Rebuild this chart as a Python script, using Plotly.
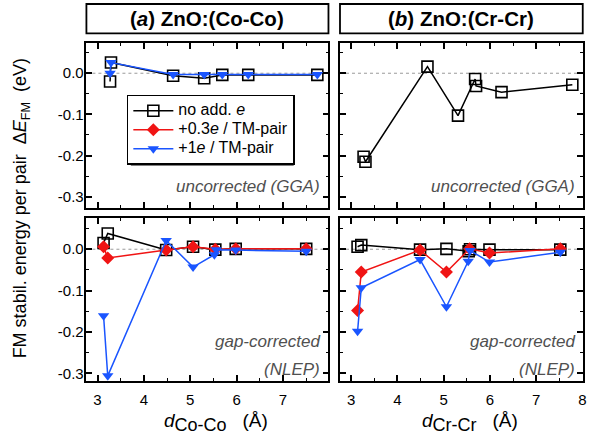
import plotly.graph_objects as go

# ---------------- data ----------------
panel_titles = ["<b>(<i>a</i>) ZnO:(Co-Co)</b>", "<b>(<i>b</i>) ZnO:(Cr-Cr)</b>"]
x_title_subs = ["Co-Co", "Cr-Cr"]
series_names = ["no add. <i>e</i>", "+0.3<i>e</i> / TM-pair", "+1<i>e</i> / TM-pair"]
y_tickvals = [0.0, -0.1, -0.2, -0.3]
y_ticktext = ["0.0", "-0.1", "-0.2", "-0.3"]
x_tickvals = [3, 4, 5, 6, 7, 8]
x_ticktext = ["3", "4", "5", "6", "7", "8"]

# (a) Co-Co, uncorrected GGA
co_gga_x = [3.27, 3.29, 4.63, 5.30, 5.69, 6.25, 7.74]
co_gga_none = [-0.020, 0.026, -0.006, -0.012, -0.004, -0.004, -0.004]
co_gga_p1 = [0.000, 0.026, -0.003, -0.003, -0.003, -0.003, -0.003]

# (b) Cr-Cr, uncorrected GGA
cr_gga_x = [3.27, 3.31, 4.65, 5.31, 5.68, 5.70, 6.25, 7.78]
cr_gga_none = [-0.203, -0.215, 0.016, -0.103, -0.014, -0.031, -0.046, -0.028]

# (a) Co-Co, gap-corrected NLEP
co_nlep_x = [3.13, 3.22, 4.48, 5.06, 5.54, 5.98, 7.50]
co_nlep_none = [0.015, 0.038, -0.002, 0.006, -0.001, 0.001, 0.001]
co_nlep_p03 = [0.006, -0.021, -0.002, 0.006, 0.000, 0.001, 0.001]
co_nlep_p1_x = [3.13, 3.22, 4.48, 5.06, 5.52, 5.56, 5.98, 7.50]
co_nlep_p1 = [-0.161, -0.306, 0.021, -0.043, -0.013, -0.001, -0.002, -0.005]

# (b) Cr-Cr, gap-corrected NLEP
cr_nlep_none_x = [3.14, 3.22, 4.49, 5.06, 5.54, 5.57, 5.99, 7.52]
cr_nlep_none = [0.006, 0.010, -0.001, 0.001, -0.005, 0.000, -0.001, -0.001]
cr_nlep_p03_x = [3.14, 3.22, 4.49, 5.06, 5.56, 5.99, 7.52]
cr_nlep_p03 = [-0.148, -0.055, -0.002, -0.055, 0.001, -0.009, 0.001]
cr_nlep_p1_x = [3.14, 3.22, 4.49, 5.06, 5.53, 5.57, 5.99, 7.52]
cr_nlep_p1 = [-0.198, -0.093, -0.025, -0.139, -0.029, -0.003, -0.031, -0.007]

# ---------------- styles ----------------
W, H = 593, 435
FONT = "Liberation Sans, Arial, sans-serif"
BLACK = "#000000"
RED = "#f01414"
BLUE = "#1a55ff"
GRAY_TXT = "#505050"

def px_x(p):
    return p / W

def px_y(p):
    return 1 - p / H

style = {
    "none": dict(mode="lines+markers", line=dict(color=BLACK, width=1.5),
                 marker=dict(symbol="square-open", size=11, color=BLACK, line=dict(width=1.6, color=BLACK))),
    "p03": dict(mode="lines+markers", line=dict(color=RED, width=1.5),
                marker=dict(symbol="diamond", size=10, color=RED, line=dict(width=0))),
    "p1": dict(mode="lines+markers", line=dict(color=BLUE, width=1.5),
               marker=dict(symbol="triangle-down", size=10, color=BLUE, line=dict(width=0))),
}

fig = go.Figure()

def add(x, y, key, xa, ya, name=None, show=False):
    fig.add_trace(go.Scatter(x=x, y=y, xaxis=xa, yaxis=ya, name=name or key,
                             showlegend=show, **style[key]))

def legname(t):
    return f'<span style="font-size:16px">{t}</span>'

# top-left: x/y
add(co_gga_x, co_gga_none, "none", "x", "y", legname(series_names[0]), True)
add([None], [None], "p03", "x", "y", legname(series_names[1]), True)   # legend entry only
add(co_gga_x, co_gga_p1, "p1", "x", "y", legname(series_names[2]), True)
# top-right: x2/y2
add(cr_gga_x, cr_gga_none, "none", "x2", "y2")
# bottom-left: x3/y3
add(co_nlep_x, co_nlep_none, "none", "x3", "y3")
add(co_nlep_x, co_nlep_p03, "p03", "x3", "y3")
add(co_nlep_p1_x, co_nlep_p1, "p1", "x3", "y3")
# bottom-right: x4/y4
add(cr_nlep_none_x, cr_nlep_none, "none", "x4", "y4")
add(cr_nlep_p03_x, cr_nlep_p03, "p03", "x4", "y4")
add(cr_nlep_p1_x, cr_nlep_p1, "p1", "x4", "y4")

xdom_l = [px_x(87), px_x(330.7)]
xdom_r = [px_x(342.3), px_x(586.7)]
ydom_t = [px_y(208.3), px_y(43.3)]
ydom_b = [px_y(381.7), px_y(218.3)]

common_ax = dict(showline=True, linecolor=BLACK, linewidth=1.5, mirror="allticks",
                 ticks="inside", ticklen=6, tickwidth=1.5, tickcolor=BLACK,
                 showgrid=False, zeroline=False,
                 tickfont=dict(family=FONT, size=15, color=BLACK))

def xax(domain, anchor, rng, labels):
    d = dict(common_ax)
    d.update(domain=domain, anchor=anchor, range=rng, tickmode="array",
             tickvals=x_tickvals, ticktext=x_ticktext, showticklabels=labels,
             ticklabelstandoff=4,
             minor=dict(dtick=0.5, tick0=0, ticks="inside", ticklen=3, tickwidth=1.2,
                        tickcolor=BLACK, showgrid=False))
    return d

def yax(domain, anchor, rng, labels):
    d = dict(common_ax)
    d.update(domain=domain, anchor=anchor, range=rng, tickmode="array",
             tickvals=y_tickvals, ticktext=y_ticktext, showticklabels=labels,
             ticklabelstandoff=-2,
             minor=dict(dtick=0.05, tick0=0, ticks="inside", ticklen=3, tickwidth=1.2,
                        tickcolor=BLACK, showgrid=False))
    return d

yr_t = [-0.327, 0.073]
yr_b = [-0.318, 0.076]
fig.update_layout(
    xaxis=xax(xdom_l, "y", [2.76, 7.98], False),
    yaxis=yax(ydom_t, "x", yr_t, True),
    xaxis2=xax(xdom_r, "y2", [2.76, 8.005], False),
    yaxis2=yax(ydom_t, "x2", yr_t, False),
    xaxis3=xax(xdom_l, "y3", [2.76, 7.98], True),
    yaxis3=yax(ydom_b, "x3", yr_b, True),
    xaxis4=xax(xdom_r, "y4", [2.76, 8.005], True),
    yaxis4=yax(ydom_b, "x4", yr_b, False),
)

LEG_L, LEG_T = 127.7, 95
LEG_W, LEG_H = 165, 66

shapes = []
# dotted zero lines
for xa, ya in [("x", "y"), ("x2", "y2"), ("x3", "y3"), ("x4", "y4")]:
    shapes.append(dict(type="line", xref=f"{xa} domain", yref=ya, x0=0, x1=1, y0=0, y1=0,
                       line=dict(color="#9a9a9a", width=1, dash="dot"), layer="below"))
# title boxes
for xa in ["x", "x2"]:
    shapes.append(dict(type="rect", xref=f"{xa} domain", yref="paper", x0=0, x1=1,
                       y0=px_y(33.5), y1=px_y(4), line=dict(color=BLACK, width=1.8)))
# legend shadow
shapes.append(dict(type="rect", xref="paper", yref="paper",
                   x0=px_x(LEG_L + 4), x1=px_x(LEG_L + LEG_W + 3),
                   y0=px_y(LEG_T + LEG_H + 5), y1=px_y(LEG_T + 4),
                   fillcolor=BLACK, line=dict(width=0), layer="above"))

annotations = []
for xa, t in zip(["x", "x2"], panel_titles):
    annotations.append(dict(text=t, xref=f"{xa} domain", yref="paper", x=0.5, y=px_y(19),
                            showarrow=False, xanchor="center", yanchor="middle",
                            font=dict(family=FONT, size=20.5, color=BLACK)))
for xa, sub in zip(["x3", "x4"], x_title_subs):
    txt = (f'<i>d</i><sub><span style="font-size:18px">{sub}</span></sub>'
           f'<span style="font-size:19px">\u00a0\u00a0\u00a0(Å)</span>')
    annotations.append(dict(text=txt, xref=f"{xa} domain", yref="paper", x=0.535, y=px_y(423),
                            showarrow=False, xanchor="center", yanchor="middle",
                            font=dict(family=FONT, size=19, color=BLACK)))
for xa in ["x", "x2"]:
    annotations.append(dict(text="<i>uncorrected (GGA)</i>", xref=f"{xa} domain", yref="paper",
                            x=0.975, y=px_y(187), showarrow=False, xanchor="right", yanchor="middle",
                            font=dict(family=FONT, size=17, color=GRAY_TXT)))
for xa in ["x3", "x4"]:
    annotations.append(dict(text="<i>gap-corrected</i>", xref=f"{xa} domain", yref="paper",
                            x=0.975, y=px_y(342), showarrow=False, xanchor="right", yanchor="middle",
                            font=dict(family=FONT, size=17, color=GRAY_TXT)))
    annotations.append(dict(text="<i>(NLEP)</i>", xref=f"{xa} domain", yref="paper",
                            x=0.975, y=px_y(370), showarrow=False, xanchor="right", yanchor="middle",
                            font=dict(family=FONT, size=17, color=GRAY_TXT)))
annotations.append(dict(text="FM stabil. energy per pair  Δ<i>E</i><sub>FM</sub>  (eV)",
                        xref="paper", yref="paper", x=px_x(22), y=px_y(209), textangle=-90,
                        showarrow=False, xanchor="center", yanchor="middle",
                        font=dict(family=FONT, size=18, color=BLACK)))

fig.update_layout(
    width=W, height=H, margin=dict(l=0, r=0, t=0, b=0),
    paper_bgcolor="white", plot_bgcolor="white",
    font=dict(family=FONT, size=15, color=BLACK),
    shapes=shapes, annotations=annotations,
    legend=dict(x=px_x(LEG_L), y=px_y(LEG_T), xanchor="left", yanchor="top",
                bgcolor="white", bordercolor=BLACK, borderwidth=1.5,
                font=dict(family=FONT, size=11, color=BLACK),
                tracegroupgap=0, itemwidth=40),
)

fig.write_html("out.html", config={"displayModeBar": False},
               post_script="document.body.style.margin='0px';")
